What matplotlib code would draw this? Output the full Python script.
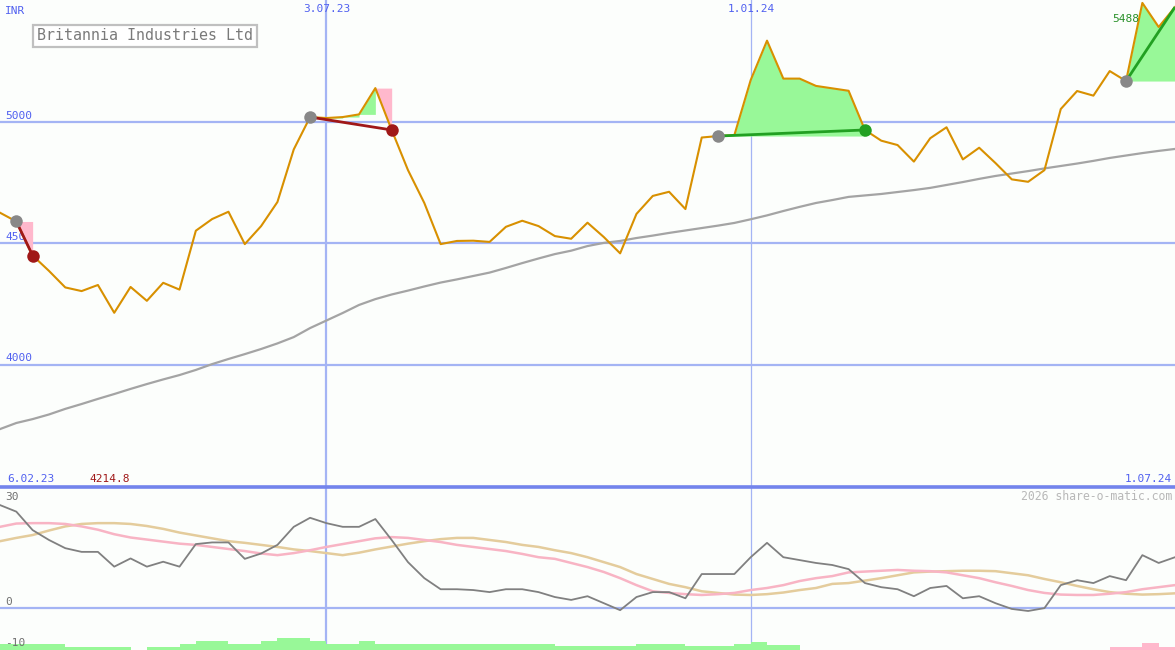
import numpy as np
import pandas as pd
import matplotlib
matplotlib.use("Agg")
import matplotlib.pyplot as plt
import matplotlib.dates as mdates

# ---------------- data ----------------
dates = pd.date_range("2023-02-13", periods=73, freq="7D")

price = [4626, 4590, 4450, 4387, 4319, 4304, 4329, 4214.8, 4321, 4264,
         4338, 4310, 4552, 4600, 4630, 4497, 4571, 4670, 4886, 5019,
         5015, 5019, 5030, 5138, 4966, 4801, 4666, 4497, 4510, 4511,
         4506, 4568, 4593, 4571, 4530, 4519, 4585, 4526, 4459, 4621,
         4695, 4712, 4641, 4935, 4941, 4945, 5171, 5333, 5177, 5177,
         5147, 5137, 5127, 4966, 4922, 4904, 4836, 4932, 4977, 4845,
         4893, 4830, 4763, 4753, 4801, 5052, 5126, 5107, 5208, 5167,
         5488, 5389, 5471]

avg_long = [3737, 3762, 3778, 3797, 3820, 3840, 3861, 3881, 3902, 3922,
            3941, 3959, 3980, 4004, 4025, 4045, 4066, 4089, 4115, 4152,
            4183, 4214, 4247, 4271, 4290, 4306, 4323, 4339, 4352, 4366,
            4380, 4399, 4419, 4438, 4456, 4470, 4489, 4502, 4510, 4522,
            4532, 4543, 4553, 4563, 4573, 4584, 4599, 4615, 4633, 4650,
            4666, 4678, 4691, 4697, 4703, 4711, 4719, 4728, 4740, 4752,
            4765, 4777, 4787, 4797, 4808, 4818, 4828, 4839, 4851, 4861,
            4871, 4880, 4888]

osc = [25.1, 23.5, 19.0, 16.6, 14.6, 13.7, 13.7, 10.1, 12.1, 10.1,
       11.3, 10.1, 15.6, 16.0, 16.0, 12.0, 13.3, 15.4, 19.8, 22.0,
       20.7, 19.8, 19.8, 21.7, 16.6, 11.2, 7.3, 4.6, 4.6, 4.4,
       3.9, 4.6, 4.6, 3.9, 2.7, 2.0, 2.9, 1.2, -0.5, 2.7,
       3.9, 3.9, 2.4, 8.3, 8.3, 8.3, 12.4, 15.9, 12.4, 11.7,
       11.0, 10.5, 9.5, 6.1, 5.1, 4.6, 2.9, 4.9, 5.4, 2.4,
       2.9, 1.2, -0.2, -0.7, 0.0, 5.6, 6.8, 6.1, 7.8, 6.8,
       12.9, 11.0, 12.4]

osc_pink = [19.8, 20.6, 20.7, 20.7, 20.5, 19.9, 19.1, 18.0, 17.2, 16.7,
            16.2, 15.7, 15.4, 14.9, 14.4, 13.9, 13.3, 12.9, 13.4, 14.1,
            14.9, 15.6, 16.3, 17.0, 17.3, 17.1, 16.6, 16.1, 15.4, 14.9,
            14.4, 13.9, 13.2, 12.4, 12.0, 11.0, 10.0, 8.8, 7.3, 5.6,
            4.1, 3.7, 3.4, 3.2, 3.4, 3.7, 4.4, 4.9, 5.6, 6.6,
            7.3, 7.8, 8.7, 8.9, 9.1, 9.3, 9.1, 9.0, 8.7, 8.0,
            7.3, 6.3, 5.4, 4.4, 3.7, 3.3, 3.2, 3.2, 3.5, 3.9,
            4.6, 5.1, 5.6]

osc_tan = [16.3, 17.1, 17.8, 18.9, 19.9, 20.5, 20.7, 20.7, 20.5, 20.0,
           19.3, 18.4, 17.7, 17.0, 16.3, 15.9, 15.4, 14.9, 14.3, 13.9,
           13.4, 12.9, 13.5, 14.3, 15.0, 15.7, 16.3, 16.8, 17.1, 17.1,
           16.6, 16.1, 15.4, 14.9, 14.1, 13.4, 12.4, 11.2, 10.0, 8.3,
           7.1, 5.9, 5.1, 4.1, 3.7, 3.3, 3.2, 3.4, 3.8, 4.4,
           4.9, 5.9, 6.1, 6.7, 7.3, 8.0, 8.7, 8.9, 9.0, 9.1,
           9.1, 9.0, 8.5, 8.0, 7.1, 6.3, 5.4, 4.6, 3.9, 3.5,
           3.3, 3.4, 3.6]

bars = ([1.5] * 4 + [0.7] * 4 + [0] + [0.7] * 2 + [1.5] + [2.2] * 2 + [1.5] * 2 +
        [2.2] + [2.9] * 2 + [2.2] + [1.5] * 2 + [2.2] + [1.5] + [1.5] * 10 +
        [1.0] * 5 + [1.5] * 3 + [1.0] * 3 + [1.5] + [2.0] + [1.2] * 2 + [0] * 19 +
        [-0.7] * 2 + [-1.7] + [-0.7])

# trades: (entry index, exit index, win?, closed?)
trades = [(1, 2, False, True), (19, 24, False, True), (44, 53, True, True), (69, 72, True, False)]

price_ticks = [4000, 4500, 5000]
vlines = ["2023-07-03", "2024-01-01"]

# ---------------- style ----------------
BG = "#fcfefc"
GRID = "#a4b4f4"
BLUE_TXT = "#5060f0"
GREEN_FILL = "#98f898"
PINK_FILL = "#ffb8cc"
ORANGE = "#d89000"
FONT = "DejaVu Sans Mono"

W, H = 1175, 650
fig = plt.figure(figsize=(W / 100, H / 100), dpi=100, facecolor=BG)
split = 487
ax = fig.add_axes([0, 1 - split / H, 1, split / H], facecolor=BG)
ax2 = fig.add_axes([0, 0, 1, 1 - split / H], facecolor=BG)

xn = mdates.date2num(dates)
for a in (ax, ax2):
    a.set_xlim(xn[0], xn[-1])
    for s in a.spines.values():
        s.set_visible(False)
    a.set_xticks([])
    a.set_yticks([])

ax.set_ylim(3499, 5500)
ax2.set_ylim(-10.2, 29.5)

# grid
for t in price_ticks:
    ax.axhline(t, color=GRID, lw=1.6, zorder=1)
ax2.axhline(0, color=GRID, lw=1.6, zorder=1)
for i, d in enumerate(vlines):
    lw = 1.6 if i == 0 else 0.9
    v = mdates.date2num(pd.Timestamp(d))
    ax.axvline(v, color=GRID, lw=lw, zorder=1)
    ax2.axvline(v, color=GRID, lw=lw, zorder=1)
ax2.axhline(29.5, color="#7384ec", lw=2.6, zorder=6, clip_on=False)


# axis labels (below fills)
def atext(a, xp, yp, s, top, height, **kw):
    a.text(xp / W, 1 - (yp - top) / height, s, transform=a.transAxes,
           family=FONT, **kw)


for t, yp in zip(price_ticks, [358, 237, 116]):
    atext(ax, 5, yp, str(t), 0, split, fontsize=8, color=BLUE_TXT, va="center", zorder=1.5)
atext(ax, 5, 11, "INR", 0, split, fontsize=8, color=BLUE_TXT, va="center", zorder=1.5)

p = np.array(price, dtype=float)

# trade shading
for e, xend, win, closed in trades:
    if win:
        seg = slice(e, xend + 1)
        ax.fill_between(xn[seg], p[seg], p[e], where=p[seg] >= p[e], interpolate=True,
                        color=GREEN_FILL, lw=0, zorder=2)
    else:
        for j in range(e, xend):
            c = GREEN_FILL if p[j + 1] > p[j] else PINK_FILL
            ax.fill_between(xn[j:j + 2], p[j:j + 2], p[j], color=c, lw=0, zorder=2)

ax.plot(xn, avg_long, color="#a4a4a4", lw=1.6, zorder=3)
ax.plot(xn, price, color=ORANGE, lw=1.5, zorder=4)

for e, xend, win, closed in trades:
    lc = "#22a022" if win else "#a01818"
    ax.plot([xn[e], xn[xend]], [p[e], p[xend]], color=lc, lw=2.0, zorder=5,
            solid_capstyle="butt")
    ax.plot([xn[e]], [p[e]], "o", color="#888888", ms=9, zorder=6, mec="none")
    if closed:
        ax.plot([xn[xend]], [p[xend]], "o", color=lc, ms=9, zorder=6, mec="none")

ax.text(xn[69], 5420, "5488", color="#289028", family=FONT, fontsize=8,
        ha="center", va="center", zorder=7)

# lower panel
ax2.bar(xn[:-1], np.abs(bars), width=7, align="edge", bottom=-10.2,
        color=[GREEN_FILL if b >= 0 else PINK_FILL for b in bars], lw=0, zorder=1.5)
ax2.plot(xn, osc_tan, color="#e4cc9c", lw=1.8, zorder=3)
ax2.plot(xn, osc_pink, color="#f8b4c4", lw=1.8, zorder=3)
ax2.plot(xn, osc, color="#808080", lw=1.3, zorder=4)

for s, yp in [("30", 497), ("0", 602), ("-10", 643)]:
    atext(ax2, 5, yp, s, split, H - split, fontsize=8, color="#707070", va="center", zorder=7)


# figure texts
def ftext(xp, yp, s, **kw):
    fig.text(xp / W, 1 - yp / H, s, family=FONT, **kw)


ftext(327, 9, "3.07.23", fontsize=8, color=BLUE_TXT, ha="center", va="center")
ftext(751, 9, "1.01.24", fontsize=8, color=BLUE_TXT, ha="center", va="center")
ftext(7, 479, "6.02.23", fontsize=8, color=BLUE_TXT, ha="left", va="center")
ftext(1172, 479, "1.07.24", fontsize=8, color=BLUE_TXT, ha="right", va="center")
ftext(89, 479, "4214.8", fontsize=8, color="#a01818", ha="left", va="center")
ftext(1172, 496, "2026 share-o-matic.com", fontsize=8.3, color="#b8b8b8",
      ha="right", va="center")
ftext(145, 36, "Britannia Industries Ltd", fontsize=10.8, color="#7a7a7a",
      ha="center", va="center",
      bbox=dict(boxstyle="square,pad=0.25", fc="white", ec="#c0c0c0", lw=1.6))

fig.savefig("out.png", dpi=100, facecolor=BG)
